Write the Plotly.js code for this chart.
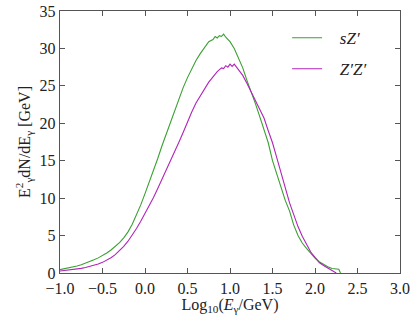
<!DOCTYPE html>
<html>
<head>
<meta charset="utf-8">
<script src="https://cdn.plot.ly/plotly-3.0.1.min.js"></script>
<style>html,body{margin:0;padding:0;background:#fff;}#chart{width:415px;height:315px;}</style>
</head>
<body>
<div id="chart"></div>
<script>
// log10(E/GeV) grid
const xGreen = [-1.00,-0.95,-0.90,-0.85,-0.80,-0.75,-0.70,-0.65,-0.60,-0.55,-0.50,-0.45,-0.40,-0.35,-0.30,-0.25,-0.20,-0.15,-0.10,-0.05,
  0.00,0.05,0.10,0.15,0.20,0.25,0.30,0.35,0.40,0.45,0.50,0.55,0.60,0.65,0.70,0.75,0.80,0.825,0.85,0.875,0.90,0.925,0.95,1.00,1.05,1.10,
  1.15,1.20,1.25,1.30,1.35,1.40,1.45,1.50,1.55,1.60,1.65,1.70,1.75,1.80,1.85,1.90,1.95,2.00,2.05,2.10,2.15,2.20,2.25,2.28,2.30];
const sZ = [0.45,0.55,0.66,0.79,0.94,1.10,1.30,1.52,1.76,2.02,2.32,2.67,3.07,3.52,4.05,4.70,5.50,6.50,7.70,9.10,
  10.6,12.1,13.7,15.3,17.0,18.6,20.3,21.9,23.4,24.8,26.1,27.3,28.4,29.3,30.1,30.9,31.2,31.6,31.4,31.7,31.6,31.9,31.5,30.9,30.0,28.7,
  27.4,25.7,24.2,22.6,20.9,19.0,17.4,15.0,13.2,11.4,9.7,8.3,6.4,5.0,4.0,3.3,2.6,2.0,1.5,1.15,0.85,0.6,0.5,0.5,0.0];

const xPurple = [-1.00,-0.95,-0.90,-0.85,-0.80,-0.75,-0.70,-0.65,-0.60,-0.55,-0.50,-0.45,-0.40,-0.35,-0.30,-0.25,-0.20,-0.15,-0.10,-0.05,
  0.00,0.05,0.10,0.15,0.20,0.25,0.30,0.35,0.40,0.45,0.50,0.55,0.60,0.65,0.70,0.75,0.80,0.85,0.90,0.925,0.95,0.975,1.00,1.025,1.05,1.10,
  1.15,1.20,1.25,1.30,1.35,1.40,1.45,1.50,1.55,1.60,1.65,1.70,1.75,1.80,1.85,1.90,1.95,2.00,2.05,2.10,2.15,2.20,2.25];
const ZZ = [0.27,0.32,0.38,0.45,0.53,0.62,0.73,0.87,1.02,1.20,1.42,1.70,2.03,2.45,2.95,3.55,4.25,5.05,5.95,6.90,
  7.90,9.00,10.1,11.3,12.5,13.7,15.0,16.3,17.5,18.8,20.2,21.5,22.7,23.7,24.6,25.5,26.2,26.9,27.4,27.3,27.7,27.5,27.9,27.6,27.9,27.1,
  26.4,25.3,24.2,23.0,22.0,20.7,19.0,17.4,15.4,13.3,11.4,9.4,7.8,6.2,4.9,3.9,2.8,2.1,1.4,1.0,0.65,0.3,0.0];

const xTicks = [-1.0,-0.5,0.0,0.5,1.0,1.5,2.0,2.5,3.0];
const xTickText = ['\u22121.0','\u22120.5','0.0','0.5','1.0','1.5','2.0','2.5','3.0'];
const yTicks = [0,5,10,15,20,25,30,35];

const font = 'Liberation Serif, DejaVu Serif, serif';
const traces = [
  {x: xGreen, y: sZ, type: 'scatter', mode: 'lines', name: '\u2002\u2005<i>sZ\u2032</i>', legendgroup: 'a',
   line: {color: '#3aa030', width: 1.1}},
  {x: xPurple, y: ZZ, type: 'scatter', mode: 'lines', name: '\u2002\u2005<i>Z\u2032Z\u2032</i>', legendgroup: 'b',
   line: {color: '#b025b8', width: 1.1}}
];
const axisCommon = {
  showgrid: false, zeroline: false, showline: true, mirror: 'ticks', linecolor: '#555', linewidth: 1.3,
  ticks: 'inside', ticklen: 5, tickwidth: 1, tickcolor: '#555',
  tickfont: {family: font, size: 16, color: '#222'}
};
const layout = {
  width: 415, height: 315,
  margin: {l: 60, r: 15, t: 11, b: 42},
  paper_bgcolor: '#fff', plot_bgcolor: '#fff',
  showlegend: true,
  legend: {x: 0.668, y: 0.965, xanchor: 'left', yanchor: 'top', bgcolor: 'rgba(0,0,0,0)',
           font: {family: font, size: 17, color: '#222'}, tracegroupgap: 6},
  xaxis: Object.assign({}, axisCommon, {range: [-1, 3], tickvals: xTicks, ticktext: xTickText,
    title: {text: 'Log<sub>10</sub>(<i>E</i><sub>\u03b3</sub>/GeV)', font: {family: font, size: 16, color: '#222'}, standoff: 3}}),
  yaxis: Object.assign({}, axisCommon, {range: [0, 35], tickvals: yTicks,
    title: {text: 'E<sup>2</sup><sub>\u03b3</sub>dN/dE<sub>\u03b3</sub> [GeV]', font: {family: font, size: 16, color: '#222'}, standoff: 5}})
};
Plotly.newPlot('chart', traces, layout, {staticPlot: true, displayModeBar: false});
</script>
</body>
</html>
